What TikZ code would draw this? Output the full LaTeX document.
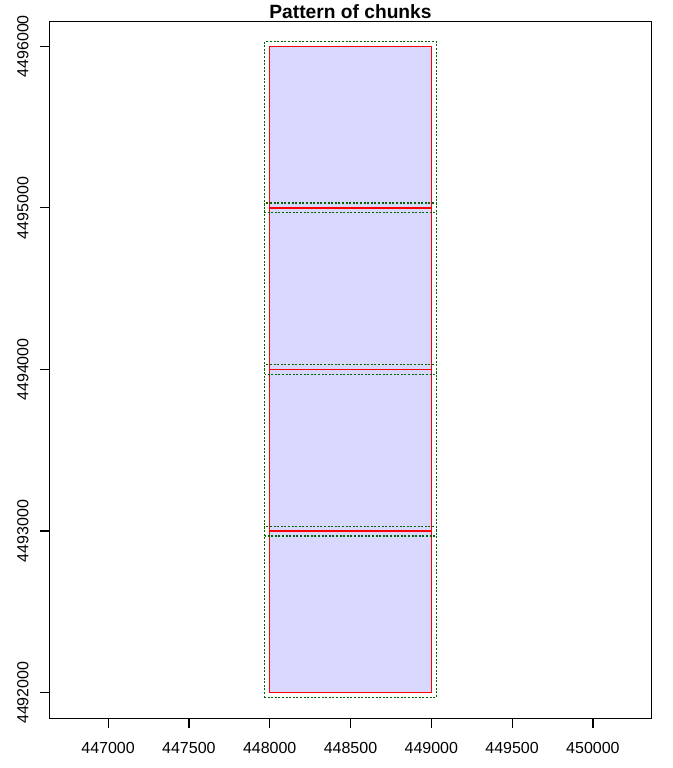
\documentclass[tikz,border=0pt]{standalone}
\usepackage{fontspec}
\setmainfont{Liberation Sans}
\usepackage{xcolor}
\definecolor{cFill}{RGB}{216,216,255}
\definecolor{cChunk}{RGB}{255,0,0}
\definecolor{cBuffer}{RGB}{0,100,0}

\begin{document}
\begin{tikzpicture}[x=0.75pt,y=0.75pt,
  ticklab/.style={font=\fontsize{12}{14}\selectfont,inner sep=0pt},
  chunk/.style={cChunk,line width=1pt},
  buffer/.style={cBuffer,line width=0.9pt,dash pattern=on 1.5pt off 1.2pt}]
  \useasboundingbox (0,0) rectangle (672,768);
  % Chunks (map units, origin at 448000 / 4496000)
  \begin{scope}[shift={(269.7,721.7)},x=0.1212pt,y=0.1212pt]
    \fill[cFill] (0,-4000) rectangle (1000,0);
    \foreach \c in {0,...,3}
      \draw[chunk] (0,{-1000*(\c+1)}) rectangle (1000,{-1000*\c});
    % Buffered chunks
    \foreach \c in {0,...,3}
      \draw[buffer] (-30,{-1000*(\c+1)-30}) rectangle (1030,{-1000*\c+30});
  \end{scope}
  % Frame
  \draw[line width=0.9pt] (49.3,49.7) rectangle (651.2,746.7);
  % Title
  \node[font=\fontsize{14.4}{17}\selectfont\bfseries,anchor=base,inner sep=0pt]
    (title) at (350.5,749) {Pattern of chunks};
  % x axis
  \foreach \lab [count=\k from 0] in {447000,447500,448000,448500,449000,449500,450000} {
    \draw[line width=0.9pt] ({108.1+80.8*\k},49.7) -- ++(0,-9.6);
    \node[ticklab,anchor=base] (xl\k) at ({108.1+80.8*\k},14.5) {\lab};
  }
  % y axis
  \foreach \lab [count=\k from 0] in {4492000,4493000,4494000,4495000,4496000} {
    \draw[line width=0.9pt] (49.3,{75.3+161.6*\k}) -- ++(-9.6,0);
    \node[ticklab,anchor=base,rotate=90] (yl\k) at (28.5,{75.3+161.6*\k}) {\lab};
  }
\end{tikzpicture}
\end{document}
